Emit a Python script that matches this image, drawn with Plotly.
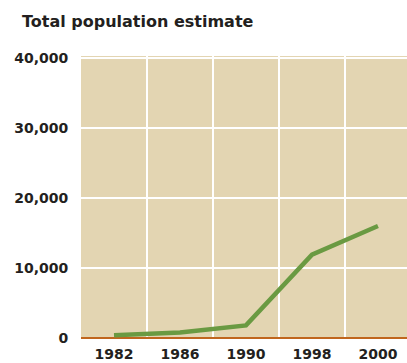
import plotly.graph_objects as go

# Population estimate by survey year
years = ["1982", "1986", "1990", "1998", "2000"]
population = [400, 800, 1800, 11900, 16000]

y_ticks = [0, 10000, 20000, 30000, 40000]
y_tick_labels = ["0", "10,000", "20,000", "30,000", "40,000"]

BG = "#e3d5b2"
GREEN = "#6a9a42"
AXIS_ORANGE = "#c0661e"
TEXT = "#231f20"
FONT = "DejaVu Sans"

fig = go.Figure(
    go.Scatter(
        x=years,
        y=population,
        mode="lines",
        line=dict(color=GREEN, width=4.5),
        hoverinfo="x+y",
    )
)

fig.update_layout(
    width=407,
    height=363,
    margin=dict(l=81, r=0, t=56, b=25),
    paper_bgcolor="white",
    plot_bgcolor=BG,
    showlegend=False,
    title=dict(
        text="<b>Total population estimate</b>",
        x=22 / 407,
        xanchor="left",
        y=1 - 21 / 363,
        yanchor="middle",
        font=dict(family=FONT, size=16, color=TEXT),
    ),
)

fig.update_xaxes(
    type="category",
    categoryorder="array",
    categoryarray=years,
    range=[-0.5, 4.44],
    tickson="boundaries",
    showgrid=True,
    gridcolor="white",
    gridwidth=1.5,
    ticks="",
    ticklabelstandoff=6,
    automargin=False,
    tickfont=dict(family=FONT, size=14, color=TEXT),
    tickprefix="<b>",
    ticksuffix="</b>",
    showline=False,
    zeroline=False,
)

fig.update_yaxes(
    range=[0, 40300],
    tickmode="array",
    tickvals=y_ticks,
    ticktext=[f"<b>{t}</b>" for t in y_tick_labels],
    showgrid=True,
    gridcolor="white",
    gridwidth=1.5,
    ticks="outside",
    ticklen=9,
    tickcolor="rgba(0,0,0,0)",
    tickfont=dict(family=FONT, size=14, color=TEXT),
    automargin=False,
    zeroline=True,
    zerolinecolor=AXIS_ORANGE,
    zerolinewidth=2,
    showline=False,
)

fig.write_html("out.html")
